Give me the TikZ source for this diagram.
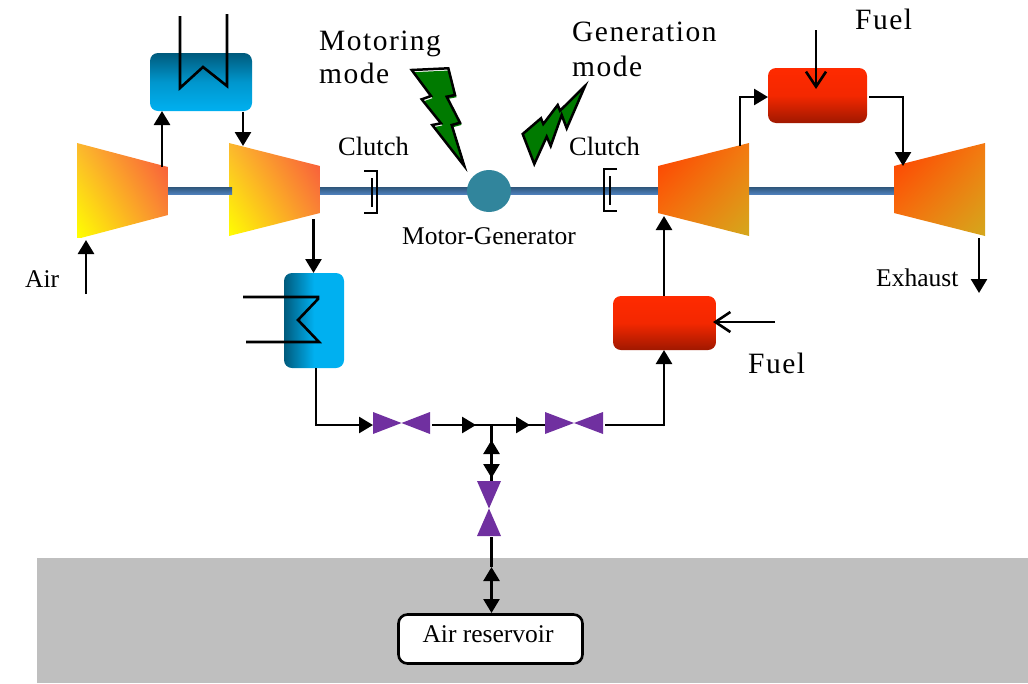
\documentclass[tikz,border=0pt]{standalone}
\usepackage{fontspec}
\setmainfont{Liberation Serif}
\newfontfamily\capfont[LetterSpace=5]{Liberation Serif}
\usetikzlibrary{arrows.meta,calc,shadings,shapes.geometric}
\definecolor{coolD}{HTML}{005A7C}
\definecolor{coolL}{HTML}{00B0F0}
\definecolor{burnT}{HTML}{FF2A00}
\definecolor{burnB}{HTML}{A01800}
\definecolor{valve}{HTML}{7030A0}
\definecolor{bolt}{HTML}{007A00}
\definecolor{shaftD}{HTML}{31597F}
\definecolor{shaftL}{HTML}{4F81BD}
\definecolor{mg}{HTML}{31859C}
\definecolor{res}{HTML}{BFBFBF}
\definecolor{compLL}{HTML}{FFFF00}
\definecolor{compUR}{HTML}{F9513D}
\definecolor{compUL}{HTML}{FBB82E}
\definecolor{compLR}{HTML}{F99233}
\definecolor{turbUL}{HTML}{FF3C00}
\definecolor{turbLR}{HTML}{D4A81C}
\definecolor{turbMid}{HTML}{F47A10}
\tikzset{
  x=1pt,y=-1pt,
  flow/.style={line width=2.6pt,line join=miter,-{Triangle[length=14pt,width=16pt]}},
  bothflow/.style={line width=2.6pt,{Triangle[length=14pt,width=16pt]}-{Triangle[length=14pt,width=16pt]}},
  fuelflow/.style={line width=2.6pt,-{Straight Barb[length=15pt,width=20pt,line width=2.6pt]}},
  plainline/.style={line width=2.6pt,line join=miter},
  coil/.style={line width=2.6pt,line join=miter},
  boxstyle/.style={inner sep=0pt,outer sep=0pt,rounded corners=8pt},
  coolV/.style={boxstyle,top color=coolD,bottom color=coolL,middle color=coolL!70!coolD},
  coolH/.style={boxstyle,left color=coolD,right color=coolL,middle color=coolL},
  burner/.style={boxstyle,top color=burnT,bottom color=burnB,middle color=burnT!88!burnB},
  lbl/.style={font=\fontsize{25.5}{28}\selectfont,inner sep=0pt,anchor=base west},
  clutchlbl/.style={font=\fontsize{26.5}{28}\selectfont,inner sep=0pt,anchor=base west},
  bigtext/.style={font=\fontsize{29.5}{34}\selectfont\capfont,inner sep=0pt,anchor=base west,align=left},
  clutchbar/.style={line width=2.6pt},
  boltline/.style={line width=2.5pt,line join=miter},
}
\newcommand{\comptrap}[6]{%
  \begin{scope}
    \clip (#1,#2) -- (#3,#4) -- (#3,#5) -- (#1,#6) -- cycle;
    \shade[lower left=compLL,upper right=compUR,lower right=compLR,upper left=compUL] (#1,143) rectangle (#3,237);
  \end{scope}}
\newcommand{\turbtrap}[6]{%
  \begin{scope}
    \clip (#1,#2) -- (#3,#4) -- (#3,#5) -- (#1,#6) -- cycle;
    \shade[upper left=turbUL,lower right=turbLR,upper right=turbMid,lower left=turbMid] (#1,143) rectangle (#3,236);
  \end{scope}}
\begin{document}
\begin{tikzpicture}
\useasboundingbox (0,0) rectangle (1028,683);
% reservoir ground
\fill[res] (37,558) rectangle (1028,683);
% shaft
\shade[top color=shaftD,bottom color=shaftL] (168,187.5) rectangle (894,194.5);
% machines
\comptrap{77}{143}{168}{167}{215}{239}
\comptrap{229}{143}{320}{166}{213}{236}
\shade[top color=shaftD,bottom color=shaftL] (229,187.5) rectangle (232,194.5);
\turbtrap{658}{166}{749}{143}{236}{213}
\turbtrap{894}{166}{985}{143}{236}{213}
% named ports of the machines
\coordinate (c1out) at (162,167);
\coordinate (c1in) at (86,240);
\coordinate (airS) at (86,294);
\coordinate (c2in) at (243,146);
\coordinate (c2out) at (313.5,219);
\coordinate (t1in) at (664,216);
\coordinate (t1out) at (740,146);
\coordinate (t1up) at (740,97);
\coordinate (t2in) at (903,166);
\coordinate (t2up) at (903,97);
\coordinate (b2out) at (869,97);
\coordinate (t2out) at (979,238);
\coordinate (exh) at (979,293);
% boxes
\node[coolV,minimum width=102pt,minimum height=58pt] (cooler1) at (201,82) {};
\node[coolH,minimum width=60pt,minimum height=95pt] (cooler2) at (314,320.5) {};
\node[burner,minimum width=103pt,minimum height=54pt] (burner1) at (664.5,323) {};
\node[burner,minimum width=99pt,minimum height=55pt] (burner2) at (817.5,95.5) {};
\node[draw,line width=2.6pt,fill=white,rounded corners=9pt,minimum width=184pt,minimum height=49pt,inner sep=0pt] (reservoir) at (490.5,639) {};
\node[lbl,anchor=center] (reslbl) at (488,634) {Air reservoir};
% motor-generator
\node[ellipse,fill=mg,minimum width=44pt,minimum height=42pt,inner sep=0pt] (mgen) at (489,191) {};
% valves
\fill[valve] (373,412) -- (430,434) -- (430,412) -- (373,434) -- cycle;
\fill[valve] (545,412) -- (603,434) -- (603,412) -- (545,434) -- cycle;
\fill[valve] (477,481) -- (501,536) -- (477,536) -- (501,481) -- cycle;
\coordinate (v1w) at (373,425);
\coordinate (v1e) at (432,425);
\coordinate (v2w) at (545,425);
\coordinate (v2e) at (605,425);
\coordinate (v3n) at (491.5,481);
\coordinate (v3s) at (491.5,537);
\coordinate (tee) at (491.5,425);
\coordinate (teeA) at (476,425);
\coordinate (teeB) at (530,425);
\coordinate (cool2d) at (316,368);
\coordinate (cool2c) at (316,425);
\coordinate (b1c) at (664,425);
\coordinate (b1s) at (664,350);
\coordinate (resB) at (491.5,567);
\coordinate (resT) at (491.5,613);
% coils
\draw[coil] (180,16) -- (180,88) -- (203,67) -- (227,86) -- (227,14);
\draw[coil] (243,297) -- (318,297) -- (318,299) -- (298,320) -- (319,342) -- (246,342);
% connectors
\draw[flow] (c1out) -- (c1out |- cooler1.south);
\draw[flow] (c2in |- cooler1.south) ++(0,1) -- (c2in);
\draw[flow] (airS) -- (c1in);
\draw[flow] (c2out) -- (c2out |- cooler2.north);
\draw[flow] (cool2d) -- (cool2c) -- (v1w);
\draw[flow] (v1e) -- (teeA);
\draw[plainline] (v1e) -- (tee);
\draw[flow] (tee) -- (teeB);
\draw[plainline] (tee) -- (v2w);
\draw[plainline] (v2e) -- (b1c);
\draw[flow] (b1c) ++(0,1.3) -- (b1s);
\draw[flow] (burner1.north) ++(-0.5,0) -- (t1in);
\draw[flow] (t1out) -- (t1up) -- (burner2.west |- t1up);
\draw[flow] (b2out) -- (t2up) -- (t2in);
\draw[flow] (t2out) -- (exh);
\coordinate (fuelA) at (816,30);
\coordinate (fuelAe) at (816,89);
\coordinate (fuelB) at (775,322);
\coordinate (fuelBe) at (713,322);
\draw[fuelflow] (fuelA) -- (fuelAe);
\draw[fuelflow] (fuelB) -- (fuelBe);
% reservoir line
\coordinate (up1) at (491.5,440);
\coordinate (dn1) at (491.5,478);
\draw[plainline] (tee) -- (v3n);
\draw[bothflow] (up1) -- (dn1);
\draw[plainline] (v3s) -- (resB);
\draw[bothflow] (resB) -- (resT);
% clutches
\draw[clutchbar] (364,171) -- (377,171) -- (377,213) -- (364,213);
\draw[clutchbar] (372,178) -- (372,207);
\draw[clutchbar] (617,169) -- (604,169) -- (604,211) -- (617,211);
\draw[clutchbar] (610,176) -- (610,205);
% lightning bolts
\path[fill=bolt,shift={(1.5,2.2)}] (411.7,70) -- (448.3,68.3) -- (455,95) -- (446.7,96.7) -- (460,122.7) -- (451.7,125) -- (464.3,166) -- (432.3,125) -- (441,123.3) -- (421.7,99.3) -- (431,96) -- cycle;
\draw[boltline] (411.7,70) -- (448.3,68.3) -- (455,95) -- (446.7,96.7) -- (460,122.7) -- (451.7,125) -- (464.3,166) -- (432.3,125) -- (441,123.3) -- (421.7,99.3) -- (431,96) -- cycle;
\path[fill=bolt] (585,86) -- (566.7,128.3) -- (561.7,115) -- (550.7,146) -- (546.7,136.7) -- (534.3,164) -- (522.7,134) -- (541,118.3) -- (543.3,124) -- (557.7,105) -- (560,110.7) -- cycle;
\draw[boltline] (585,86) -- (566.7,128.3) -- (561.7,115) -- (550.7,146) -- (546.7,136.7) -- (534.3,164) -- (522.7,134) -- (541,118.3) -- (543.3,124) -- (557.7,105) -- (560,110.7) -- cycle;
% labels
\node[bigtext] (motoring) at (319,50) {Motoring};
\node[bigtext] (motoring2) at (319,83) {mode};
\node[bigtext] (generation) at (572,41) {Generation};
\node[bigtext] (generation2) at (572,76) {mode};
\node[bigtext] (fuel1) at (855,29) {Fuel};
\node[bigtext] (fuel2) at (748,373) {Fuel};
\node[clutchlbl] (clutch1) at (338,155) {Clutch};
\node[clutchlbl] (clutch2) at (569,155) {Clutch};
\node[lbl] (mglbl) at (402,244) {Motor-Generator};
\node[lbl] (air) at (25,287) {Air};
\node[lbl] (exhaust) at (876,286) {Exhaust};
\end{tikzpicture}
\end{document}
